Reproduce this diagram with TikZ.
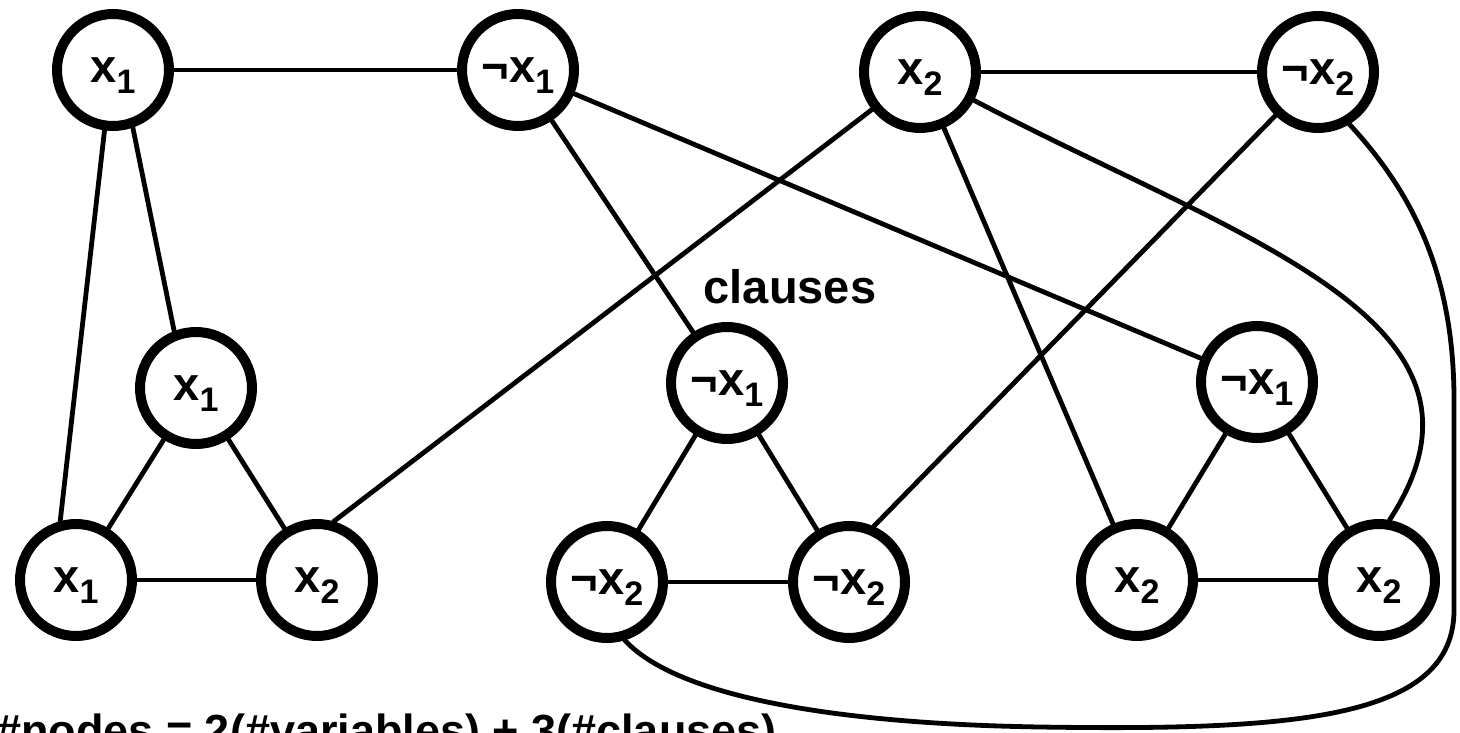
\documentclass[tikz,border=0pt]{standalone}
\usepackage{fontspec}
\setmainfont{Liberation Sans}
\newcommand{\lsub}[1]{\smash{\raisebox{-0.24em}{\fontsize{34}{36}\selectfont #1}}}
\tikzset{
  lit/.style={circle, draw=black, line width=10pt, minimum size=112pt, inner sep=0pt,
              font=\bfseries\fontsize{47}{50}\selectfont},
  edge/.style={line width=4.8pt, line cap=round},
  caption/.style={font=\bfseries\fontsize{47}{50}\selectfont, inner sep=0pt},
  footnote/.style={font=\bfseries\fontsize{45}{48}\selectfont, inner sep=0pt}
}
\begin{document}
\begin{tikzpicture}[x=1pt, y=-1pt]
\fill[white] (0,0) rectangle (1460,733);
\useasboundingbox (0,0) rectangle (1460,733);

% variable nodes
\node[lit] (X1)  at (113,70)  {x\lsub{1}};
\node[lit] (NX1) at (518,70)  {¬x\lsub{1}};
\node[lit] (X2)  at (920,72)  {x\lsub{2}};
\node[lit] (NX2) at (1318,72) {¬x\lsub{2}};

% clause 1
\node[lit] (C1a) at (196,388) {x\lsub{1}};
\node[lit] (C1b) at (76,580)  {x\lsub{1}};
\node[lit] (C1c) at (317,580) {x\lsub{2}};
% clause 2
\node[lit] (C2a) at (727,383) {¬x\lsub{1}};
\node[lit] (C2b) at (607,582) {¬x\lsub{2}};
\node[lit] (C2c) at (849,582) {¬x\lsub{2}};
% clause 3
\node[lit] (C3a) at (1257,382) {¬x\lsub{1}};
\node[lit] (C3b) at (1137,580) {x\lsub{2}};
\node[lit] (C3c) at (1379,580) {x\lsub{2}};

\node[caption] (cl) at (790,287) {clauses};
\node[footnote, anchor=base west] (note) at (-4,746) {\#nodes = 2(\#variables) + 3(\#clauses)};

% variable edges
\draw[edge] (X1) -- (NX1);
\draw[edge] (X2) -- (NX2);

% triangles
\draw[edge] (C1a) -- (C1b);
\draw[edge] (C1a) -- (C1c);
\draw[edge] (C1b) -- (C1c);
\draw[edge] (C2a) -- (C2b);
\draw[edge] (C2a) -- (C2c);
\draw[edge] (C2b) -- (C2c);
\draw[edge] (C3a) -- (C3b);
\draw[edge] (C3a) -- (C3c);
\draw[edge] (C3b) -- (C3c);

% literal connections
\draw[edge] (X1.-98) -- (C1b.105);
\draw[edge] (X1.-71) -- (C1a.111);
\draw[edge] (NX1) -- (C2a);
\draw[edge] (NX1) -- (C3a);
\draw[edge] (X2.218) -- (C1c.74);
\draw[edge] (X2) -- (C3b);
\draw[edge] (NX2) -- (C2c.66);
\draw[edge] (X2) .. controls (1240,240) and (1520,320) .. (C3c.80);
\draw[edge] (NX2.-59) .. controls (1410,190) and (1454,270) .. (1454,400)
  -- (1454,610) .. controls (1454,718) and (1300,731) .. (1040,727)
  .. controls (850,724) and (680,700) .. (C2b.-73);
\end{tikzpicture}
\end{document}
